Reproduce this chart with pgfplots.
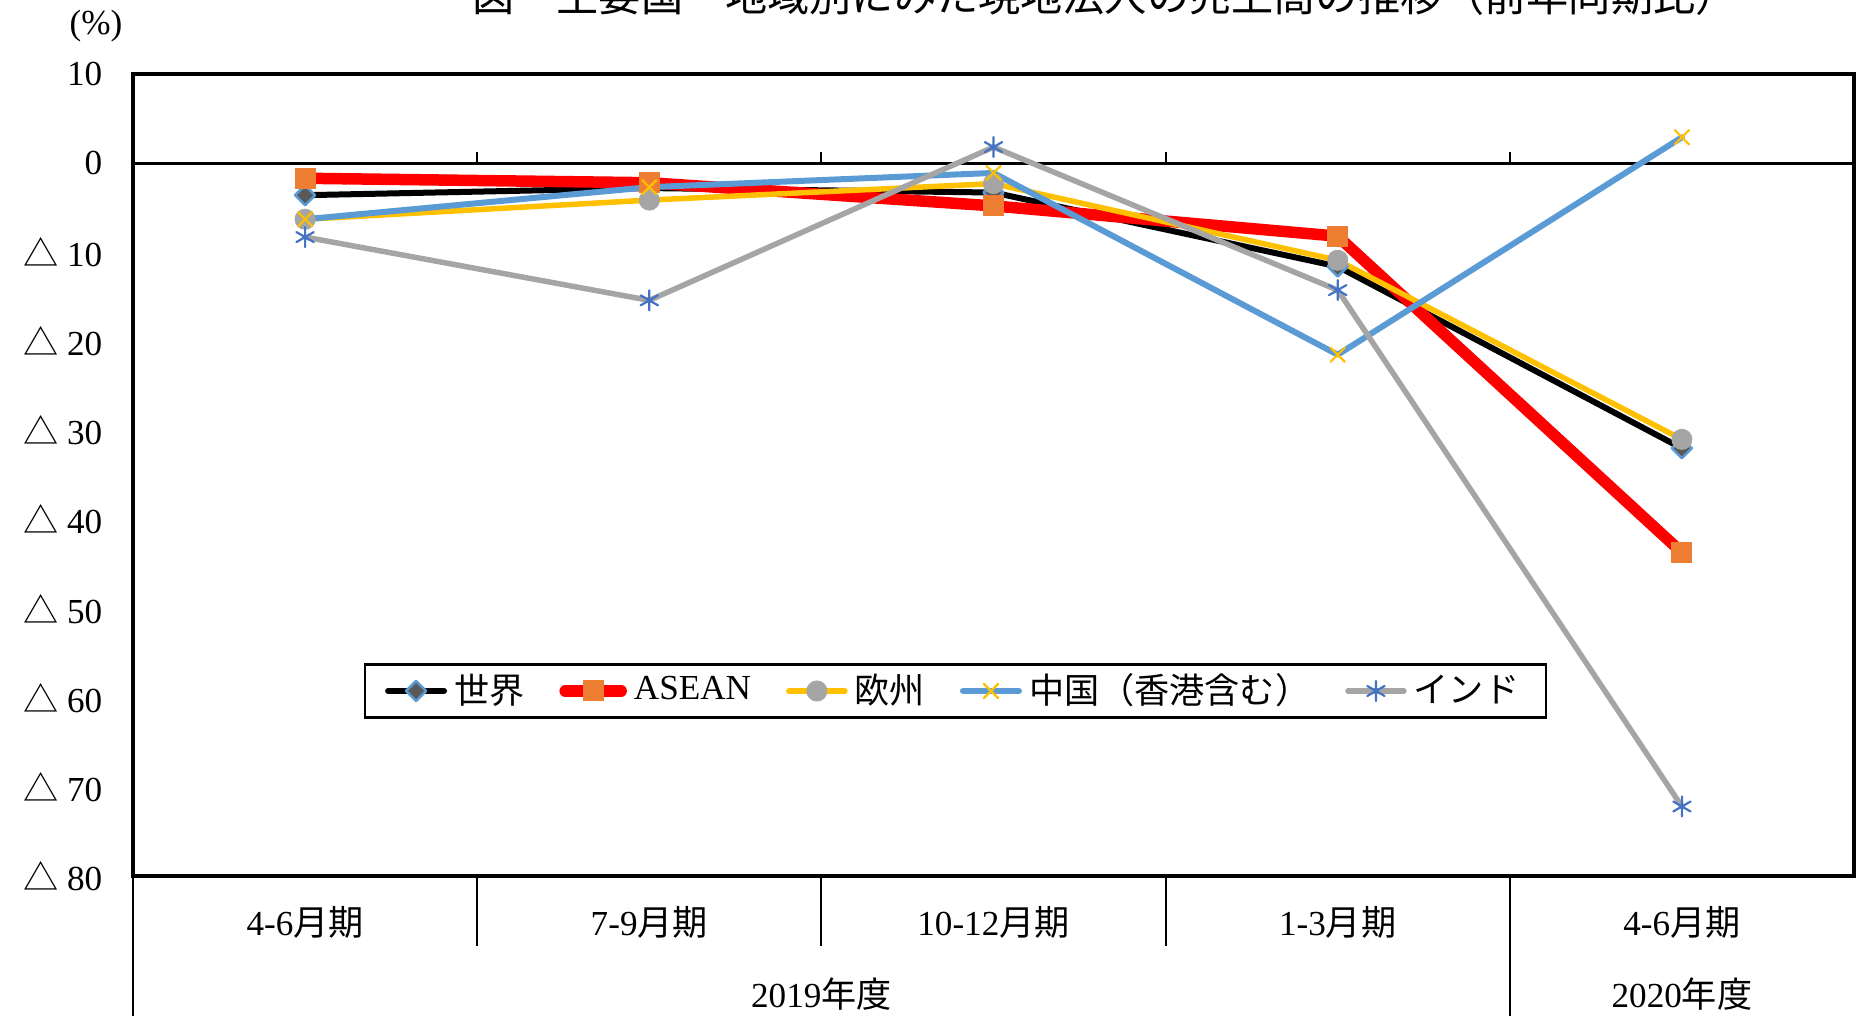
\documentclass[border=0pt]{standalone}
\usepackage{fontspec}
\setmainfont{Liberation Serif}
\newfontfamily\cjk{Noto Sans CJK JP}
\usepackage{pgfplots}
\pgfplotsset{compat=1.18}
\definecolor{cRed}{HTML}{FF0000}
\definecolor{cOrange}{HTML}{ED7D31}
\definecolor{cGold}{HTML}{FFC000}
\definecolor{cGray}{HTML}{A5A5A5}
\definecolor{cBlue}{HTML}{5B9BD5}
\definecolor{cDBlue}{HTML}{4472C4}
\definecolor{cDGray}{HTML}{595959}
\begin{document}
\begin{tikzpicture}
\begin{axis}[
  scale only axis, width=172.1mm, height=80.2mm,
  xmin=-0.5, xmax=4.5, ymin=-80, ymax=10,
  xtick={0,1,2,3,4},
  xticklabels={4-6{\cjk 月期},7-9{\cjk 月期},10-12{\cjk 月期},1-3{\cjk 月期},4-6{\cjk 月期}},
  ytick={-80,-70,-60,-50,-40,-30,-20,-10,0,10},
  yticklabels={{\cjk △} 80,{\cjk △} 70,{\cjk △} 60,{\cjk △} 50,{\cjk △} 40,{\cjk △} 30,{\cjk △} 20,{\cjk △} 10,0,10},
  major tick length=0pt,
  axis line style={line width=0.35mm},
  tick label style={font=\fontsize{10}{12}\selectfont},
  xticklabel style={anchor=center, yshift=-4.6mm},
  yticklabel style={anchor=east, inner sep=0pt, xshift=-3.0mm},
  clip=false,
  legend columns=5,
  legend style={at={(0.478,0.2307)}, anchor=center, draw=black, line width=0.25mm,
    font=\fontsize{10}{12}\selectfont, inner xsep=2mm, inner ysep=0.2mm,
    /tikz/every even column/.append style={column sep=2.8mm}},
  legend image code/.code={\draw[mark repeat=2,mark phase=2] plot coordinates {(0mm,0mm)(2.8mm,0mm)(5.6mm,0mm)};},
  every axis plot/.append style={line cap=round, line join=round},
]
% zero line and ticks
\draw[line width=0.3mm] (axis cs:-0.5,0) -- (axis cs:4.5,0);
\draw[line width=0.2mm] (axis cs:0.5,0) -- ([yshift=1.1mm]axis cs:0.5,0);
\draw[line width=0.2mm] (axis cs:1.5,0) -- ([yshift=1.1mm]axis cs:1.5,0);
\draw[line width=0.2mm] (axis cs:2.5,0) -- ([yshift=1.1mm]axis cs:2.5,0);
\draw[line width=0.2mm] (axis cs:3.5,0) -- ([yshift=1.1mm]axis cs:3.5,0);
% category box lines
\draw[line width=0.2mm] (axis cs:-0.5,-80) -- ([yshift=-14mm]axis cs:-0.5,-80);
\draw[line width=0.2mm] (axis cs:3.5,-80) -- ([yshift=-14mm]axis cs:3.5,-80);
\draw[line width=0.2mm] (axis cs:0.5,-80) -- ([yshift=-7mm]axis cs:0.5,-80);
\draw[line width=0.2mm] (axis cs:1.5,-80) -- ([yshift=-7mm]axis cs:1.5,-80);
\draw[line width=0.2mm] (axis cs:2.5,-80) -- ([yshift=-7mm]axis cs:2.5,-80);
\node[font=\fontsize{10}{12}\selectfont] at ([yshift=-11.8mm]axis cs:1.5,-80) {2019{\cjk 年度}};
\node[font=\fontsize{10}{12}\selectfont] at ([yshift=-11.8mm]axis cs:4,-80) {2020{\cjk 年度}};

\addplot[black, line width=0.6mm, mark=square*, mark size=0.71mm,
  mark options={rotate=45, fill=cDGray, draw=cBlue, line width=0.25mm}]
  coordinates {(0,-3.6) (1,-2.8) (2,-3.3) (3,-11.6) (4,-32.0)};
\addlegendentry{{\cjk 世界}}
\addplot[cRed, line width=1.15mm, mark=square*, mark size=1mm,
  mark options={fill=cOrange, draw=cOrange, line width=0.1mm}]
  coordinates {(0,-1.7) (1,-2.2) (2,-4.8) (3,-8.2) (4,-43.7)};
\addlegendentry{ASEAN}
\addplot[cGold, line width=0.55mm, mark=*, mark size=1mm,
  mark options={fill=cGray, draw=cGray, line width=0.1mm}]
  coordinates {(0,-6.3) (1,-4.15) (2,-2.3) (3,-10.9) (4,-31.0)};
\addlegendentry{{\cjk 欧州}}
\addplot[cBlue, line width=0.6mm, mark=x, mark size=1mm,
  mark options={draw=cGold, line width=0.22mm}]
  coordinates {(0,-6.3) (1,-2.7) (2,-1.1) (3,-21.5) (4,2.9)};
\addlegendentry{{\cjk 中国（香港含む）}}
\addplot[cGray, line width=0.55mm, mark=asterisk, mark size=1mm,
  mark options={draw=cDBlue, line width=0.22mm}]
  coordinates {(0,-8.3) (1,-15.4) (2,1.8) (3,-14.25) (4,-72.2)};
\addlegendentry{{\cjk インド}}
\end{axis}
\node[font=\fontsize{10}{12}\selectfont] at (-3.7mm,85.0mm) {(\%)};
\node[anchor=base, font=\fontsize{12}{14}\selectfont\cjk] at (97.2mm,86.45mm) {図　主要国・地域別にみた現地法人の売上高の推移（前年同期比）};
\pgfresetboundingbox
\useasboundingbox (-13.3mm,-14mm) rectangle (172.5mm,87.6mm);
\end{tikzpicture}
\end{document}
